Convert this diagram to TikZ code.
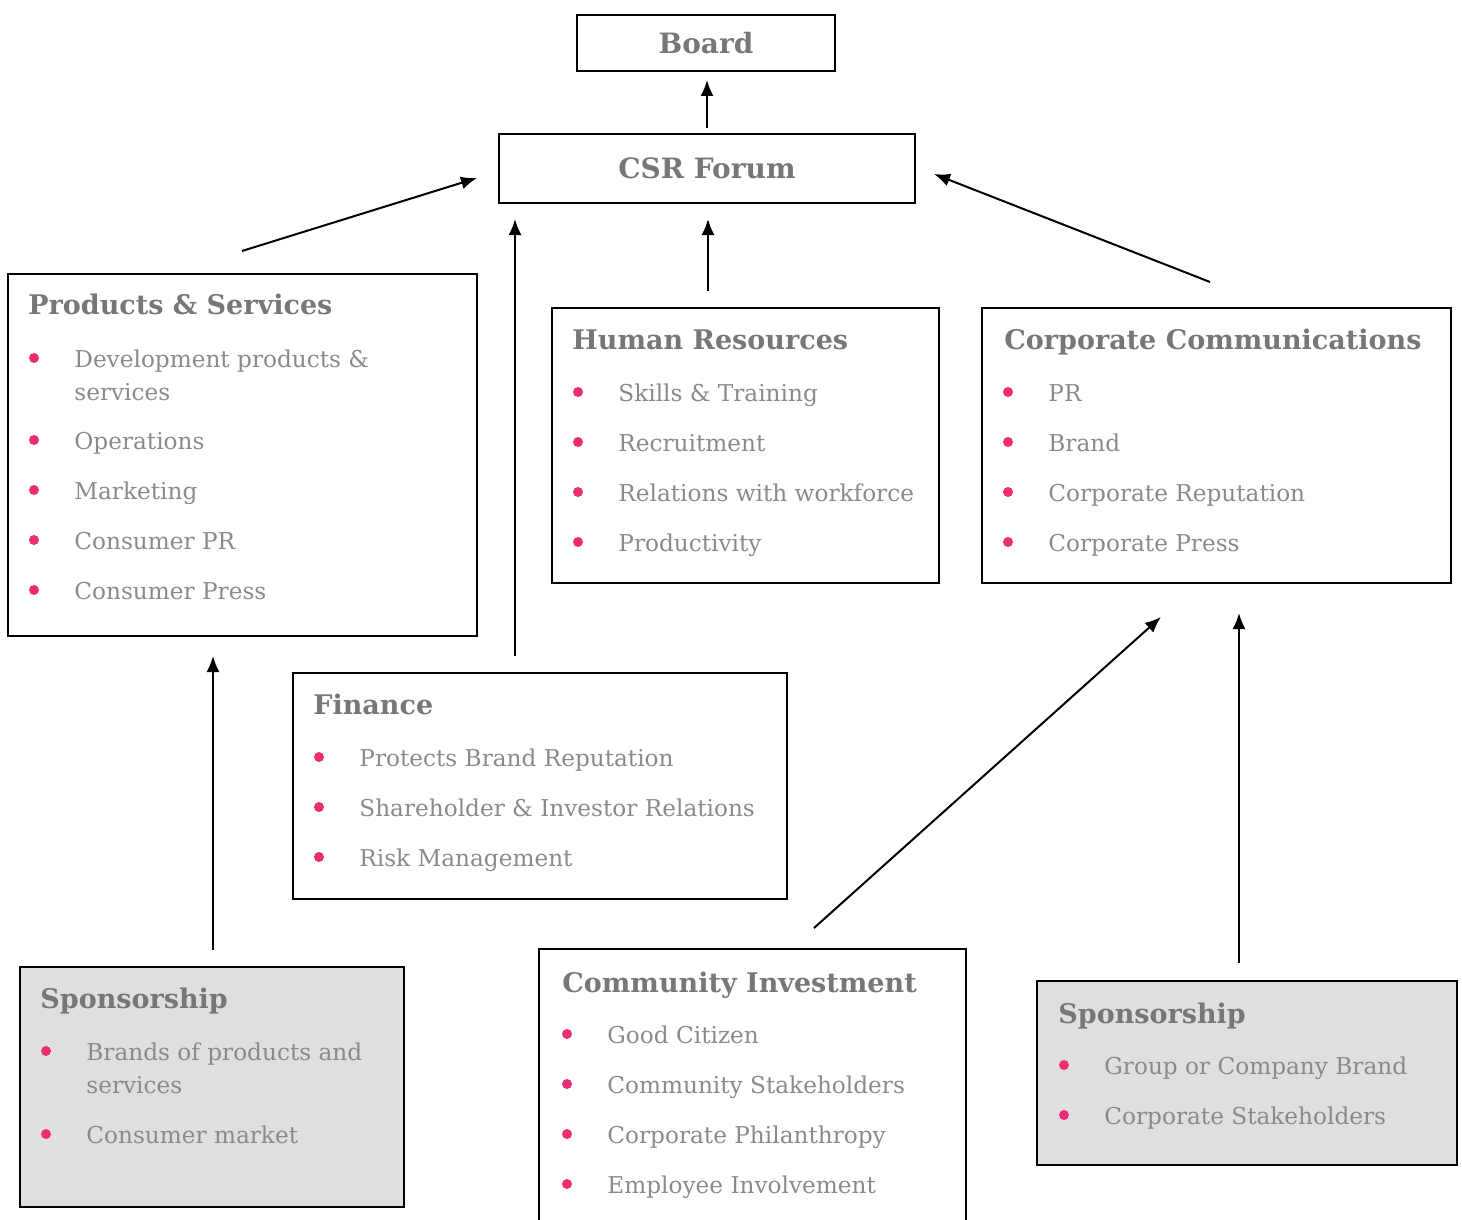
\documentclass[tikz,border=0pt]{standalone}
\usepackage{fontspec}
\setmainfont{DejaVu Serif}
\usetikzlibrary{arrows.meta,fit}

\definecolor{headgrey}{HTML}{76777A}
\definecolor{itemgrey}{HTML}{8A8A8D}
\definecolor{dotpink}{HTML}{EC2D74}
\definecolor{boxfill}{HTML}{DFDFDF}

\tikzset{
    unitbox/.style={draw=black,line width=0.9pt,inner sep=0pt},
    head/.style={anchor=base west,inner sep=0pt,text=headgrey,font=\fontsize{13.5}{16}\selectfont\bfseries},
    item/.style={anchor=base west,inner sep=0pt,text=itemgrey,font=\fontsize{11.6}{14}\selectfont},
    dot/.style={circle,fill=dotpink,inner sep=0pt,minimum size=5pt},
}

\begin{document}
\begin{tikzpicture}[x=0.5pt,y=-0.5pt]
        \useasboundingbox (0,0) rectangle (1462,1220);

        % boxes
        \begin{scope}[every node/.style={unitbox}]
            \node[fit={(577,15) (835,71)}] (board) {};
            \node[fit={(499,134) (915,203)}] (csr) {};
            \node[fit={(8,274) (477,636)}] (prod) {};
            \node[fit={(552,308) (939,583)}] (hr) {};
            \node[fit={(982,308) (1451,583)}] (comms) {};
            \node[fit={(293,673) (787,899)}] (fin) {};
            \node[fit={(20,967) (404,1207)},fill=boxfill] (sponsl) {};
            \node[fit={(1037,981) (1457,1165)},fill=boxfill] (sponsr) {};
            \node[fit={(540,950) (965,1220)},draw=none] (comm) {};
        \end{scope}
        \draw[line width=0.9pt] (comm.south west) -- (comm.north west) -- (comm.north east) -- (comm.south east);

        \node[text=headgrey,font=\fontsize{14}{16}\selectfont\bfseries] (boardtxt) at (board.center) {Board};
        \node[text=headgrey,font=\fontsize{14}{16}\selectfont\bfseries] (csrtxt) at (csr.center) {CSR Forum};

        % headings
        \node[head] (prodh) at (28,314) {Products \& Services};
        \node[head] (hrh) at (572,349) {Human Resources};
        \node[head] (commsh) at (1004,349) {Corporate Communications};
        \node[head] (finh) at (313,714) {Finance};
        \node[head] (sponslh) at (40,1008) {Sponsorship};
        \node[head] (commh) at (562,992) {Community Investment};
        \node[head] (sponsrh) at (1058,1023) {Sponsorship};

        % bullet lists
        \node[dot] (prodd) at (34,358) {};
        \node[item] (prodt) at (74,367) {Development products \&};
        \node[item] (prodt2) at (74,400) {services};
        \foreach \t [count=\i from 0] in {Operations,Marketing,Consumer PR,Consumer Press} {
            \node[dot] (prodd-\i) at (34,440+50*\i) {};
            \node[item] (prod-\i) at (74,449+50*\i) {\t};
        }
        \foreach \t [count=\i from 0] in {Skills \& Training,Recruitment,Relations with workforce,Productivity} {
            \node[dot] (hrd-\i) at (578,392+50*\i) {};
            \node[item] (hr-\i) at (618,401+50*\i) {\t};
        }
        \foreach \t [count=\i from 0] in {PR,Brand,Corporate Reputation,Corporate Press} {
            \node[dot] (commsd-\i) at (1008,392+50*\i) {};
            \node[item] (comms-\i) at (1048,401+50*\i) {\t};
        }
        \foreach \t [count=\i from 0] in {Protects Brand Reputation,Shareholder \& Investor Relations,Risk Management} {
            \node[dot] (find-\i) at (319,757+50*\i) {};
            \node[item] (fin-\i) at (359,766+50*\i) {\t};
        }
        \node[dot] (sponsld) at (46,1051) {};
        \node[item] (sponslt) at (86,1060) {Brands of products and};
        \node[item] (sponslt2) at (86,1093) {services};
        \node[dot] (sponsld2) at (46,1134) {};
        \node[item] (sponslt3) at (86,1143) {Consumer market};
        \foreach \t [count=\i from 0] in {Good Citizen,Community Stakeholders,Corporate Philanthropy,Employee Involvement} {
            \node[dot] (commd-\i) at (567,1034+50*\i) {};
            \node[item] (comm-\i) at (607,1043+50*\i) {\t};
        }
        \foreach \t [count=\i from 0] in {Group or Company Brand,Corporate Stakeholders} {
            \node[dot] (sponsrd-\i) at (1064,1065+50*\i) {};
            \node[item] (sponsr-\i) at (1104,1074+50*\i) {\t};
        }

        % arrow ends
        \coordinate (b-in) at (707,80);
        \coordinate (c-out) at (707,128);
        \coordinate (p-out) at (242,251);
        \coordinate (p-in) at (477,178);
        \coordinate (f-out) at (515,656);
        \coordinate (f-in) at (515,219);
        \coordinate (h-out) at (708,291);
        \coordinate (h-in) at (708,219);
        \coordinate (cc-out) at (1210,282);
        \coordinate (cc-in) at (934,174);
        \coordinate (sl-out) at (213,950);
        \coordinate (sl-in) at (213,656);
        \coordinate (ci-out) at (814,928);
        \coordinate (ci-in) at (1161,617);
        \coordinate (sr-out) at (1239,963);
        \coordinate (sr-in) at (1239,613);

        \begin{scope}[>={Latex[length=8pt,width=6.5pt]},
                    every edge/.style={draw=black,line width=1pt}]
            \path [->] (c-out) edge (b-in);
            \path [->] (p-out) edge (p-in);
            \path [->] (f-out) edge (f-in);
            \path [->] (h-out) edge (h-in);
            \path [->] (cc-out) edge (cc-in);
            \path [->] (sl-out) edge (sl-in);
            \path [->] (ci-out) edge (ci-in);
            \path [->] (sr-out) edge (sr-in);
        \end{scope}
    \end{tikzpicture}
\end{document}
